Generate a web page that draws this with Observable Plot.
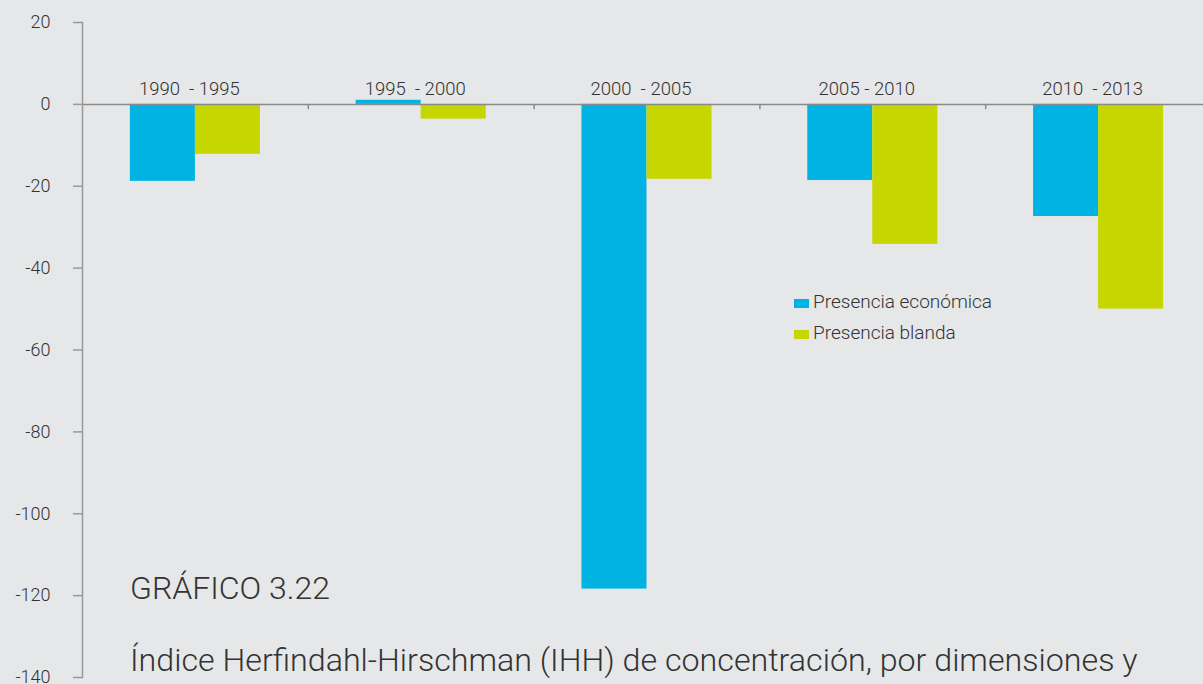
<!DOCTYPE html>
<html>
<head>
<meta charset="utf-8">
<script src="https://cdn.jsdelivr.net/npm/d3@7"></script>
<script src="https://cdn.jsdelivr.net/npm/@observablehq/plot@0.6"></script>
<style>
  html, body { margin: 0; padding: 0; background: #e6e7e9; }
  #wrap { position: relative; width: 1203px; height: 684px; overflow: hidden; font-family: Roboto, sans-serif; font-weight: 300; color: #333; }
  #wrap svg { max-width: none !important; }
  #wrap svg text { fill: #333; }
  .legend { position: absolute; left: 794px; top: 286px; font-size: 19px; line-height: 31px; }
  .legend .sw { display: inline-block; width: 15px; height: 9px; margin-right: 4px; vertical-align: 0px; }
  .t1 { position: absolute; left: 130px; top: 569px; font-size: 32px; white-space: nowrap; }
  .t2 { position: absolute; left: 130px; top: 641px; font-size: 32.2px; white-space: nowrap; }
</style>
</head>
<body>
<div id="wrap"></div>
<script>
const periods = ["1990  - 1995", "1995  - 2000", "2000  - 2005", "2005 - 2010", "2010  - 2013"];
const presenciaEconomica = [-18.8, 1.0, -118.4, -18.6, -27.4];
const presenciaBlanda = [-12.2, -3.6, -18.3, -34.2, -50.0];
const yTicks = [20, 0, -20, -40, -60, -80, -100, -120, -140];
const seriesNames = ["Presencia económica", "Presencia blanda"];
const colors = ["#00b3e3", "#c5d600"];

const rows = periods.map((p, i) => ({period: p, econ: presenciaEconomica[i], blanda: presenciaBlanda[i]}));

const W = 1211, H = 684;
const mL = 82, mR = 0;
const pInner = 0.424, pOuter = 0.212;
const step = (W - mL - mR) / (periods.length - pInner + 2 * pOuter);
const bw = step * (1 - pInner);

const chart = Plot.plot({
  width: W,
  height: H,
  marginLeft: mL,
  marginRight: mR,
  marginTop: 22,
  marginBottom: 7,
  style: {background: "transparent", fontFamily: "Roboto, sans-serif", fontWeight: 300, fontSize: "18px", overflow: "visible", maxWidth: "none"},
  x: {domain: periods, paddingInner: pInner, paddingOuter: pOuter, round: false, axis: null},
  y: {domain: [-140, 20], axis: null},
  marks: [
    Plot.barY(rows, {x: "period", y: "econ", fill: colors[0], insetRight: bw / 2}),
    Plot.barY(rows, {x: "period", y: "blanda", fill: colors[1], insetLeft: bw / 2}),
    Plot.ruleY([0], {stroke: "#8a8a8a", strokeWidth: 1.5}),
    Plot.ruleX(periods.slice(0, 4), {x: d => d, dx: step / 2, y1: 0, y2: -1.3, stroke: "#8a8a8a", strokeWidth: 1.5}),
    Plot.frame({anchor: "left", stroke: "#999", strokeWidth: 1.5}),
    Plot.axisY({ticks: yTicks, tickSize: 9, tickPadding: 23, stroke: "#999", strokeWidth: 1.5, fontSize: 18, tickFormat: d => String(d)}),
    Plot.text(periods, {x: d => d, y: 0, text: d => d, dy: -15, dx: -6, fontSize: 18.5, fill: "#333"})
  ]
});

const wrap = document.getElementById("wrap");
wrap.appendChild(chart);

const legend = document.createElement("div");
legend.className = "legend";
legend.innerHTML = seriesNames.map((n, i) => `<div><span class="sw" style="background:${colors[i]}"></span>${n}</div>`).join("");
wrap.appendChild(legend);

const t1 = document.createElement("div");
t1.className = "t1";
t1.textContent = "GRÁFICO 3.22";
wrap.appendChild(t1);

const t2 = document.createElement("div");
t2.className = "t2";
t2.textContent = "Índice Herfindahl-Hirschman (IHH) de concentración, por dimensiones y";
wrap.appendChild(t2);
</script>
</body>
</html>
